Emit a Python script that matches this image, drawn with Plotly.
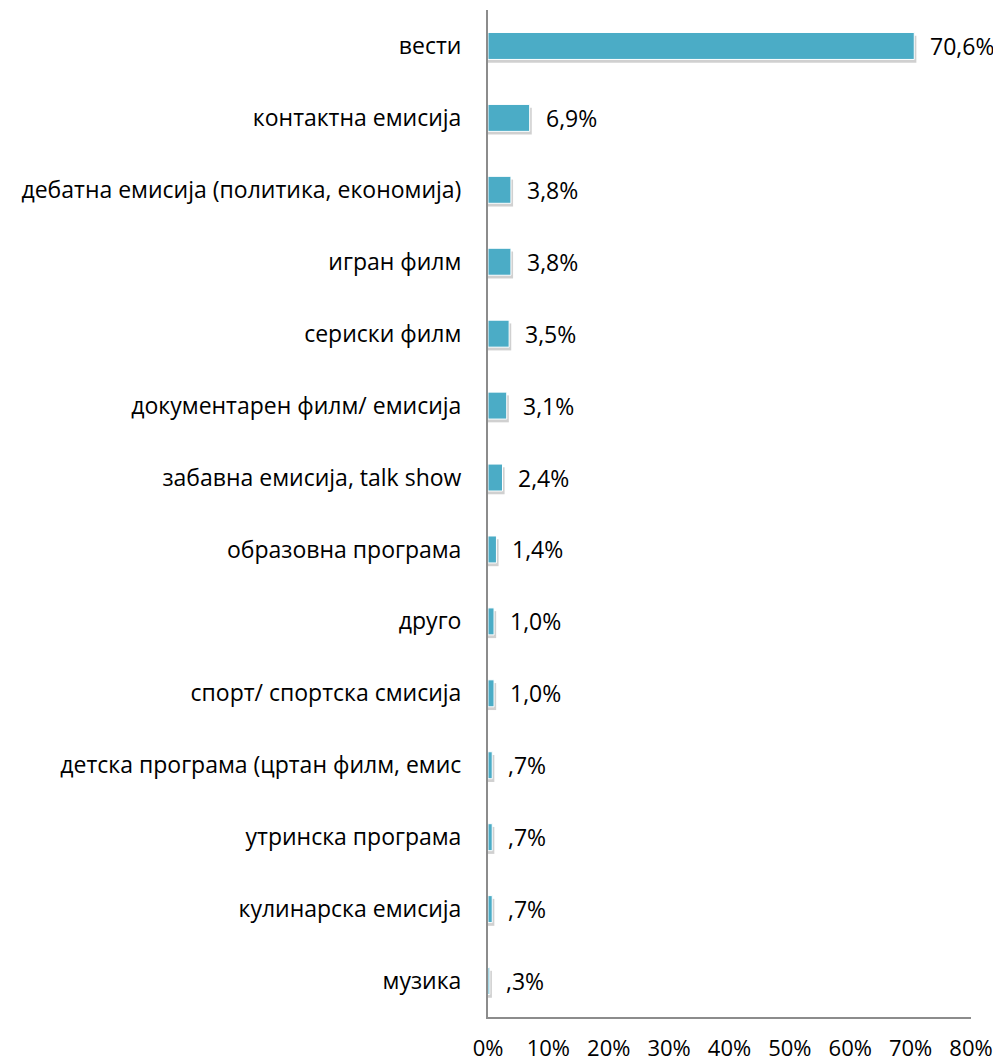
import plotly.graph_objects as go

categories = ["вести", "контактна емисија", "дебатна емисија (политика, економија)",
              "игран филм", "сериски филм", "документарен филм/ емисија",
              "забавна емисија, talk show", "образовна програма", "друго",
              "спорт/ спортска смисија", "детска програма (цртан филм, емис",
              "утринска програма", "кулинарска емисија", "музика"]
values = [70.6, 6.9, 3.8, 3.8, 3.5, 3.1, 2.4, 1.4, 1.0, 1.0, 0.7, 0.7, 0.7, 0.3]
value_labels = ["70,6%", "6,9%", "3,8%", "3,8%", "3,5%", "3,1%", "2,4%", "1,4%",
                "1,0%", "1,0%", ",7%", ",7%", ",7%", ",3%"]
tick_vals = [0, 10, 20, 30, 40, 50, 60, 70, 80]
tick_text = ["0%", "10%", "20%", "30%", "40%", "50%", "60%", "70%", "80%"]

FONT = "Open Sans"
FSIZE = 23
BAR_W = 0.375

fig = go.Figure()
# soft shadow
fig.add_trace(go.Bar(
    y=categories, x=[v + 0.35 for v in values], orientation="h",
    width=BAR_W, offset=-BAR_W / 2 + 0.045,
    marker=dict(color="rgba(120,120,120,0.35)", line=dict(width=0)),
    hoverinfo="skip", showlegend=False))
fig.add_trace(go.Bar(
    y=categories, x=values, orientation="h",
    width=BAR_W, offset=-BAR_W / 2,
    marker=dict(color="#4BACC6", line=dict(color="white", width=1)),
    showlegend=False))

for c, v, t in zip(categories, values, value_labels):
    fig.add_annotation(x=v, y=c, text=t, showarrow=False, xanchor="left",
                       xshift=14, font=dict(family=FONT, size=FSIZE, color="black"))

fig.update_layout(
    width=993, height=1054,
    margin=dict(l=480, r=30, t=2, b=45),
    paper_bgcolor="white", plot_bgcolor="white",
    barmode="overlay",
    font=dict(family=FONT, size=FSIZE, color="black"),
)
fig.update_xaxes(range=[0, 80], tickvals=tick_vals, ticktext=tick_text,
                 showgrid=False, zeroline=False, showline=True,
                 linecolor="#8c8c8c", linewidth=2, ticks="", ticklen=0,
                 ticklabelstandoff=11, automargin=False,
                 tickfont=dict(family=FONT, size=22), fixedrange=True)
fig.update_yaxes(autorange="reversed", showgrid=False, zeroline=False,
                 showline=True, linecolor="#8c8c8c", linewidth=2,
                 ticks="", ticklabelstandoff=20, automargin=False,
                 tickfont=dict(family=FONT, size=FSIZE))

fig.write_html("out.html")
